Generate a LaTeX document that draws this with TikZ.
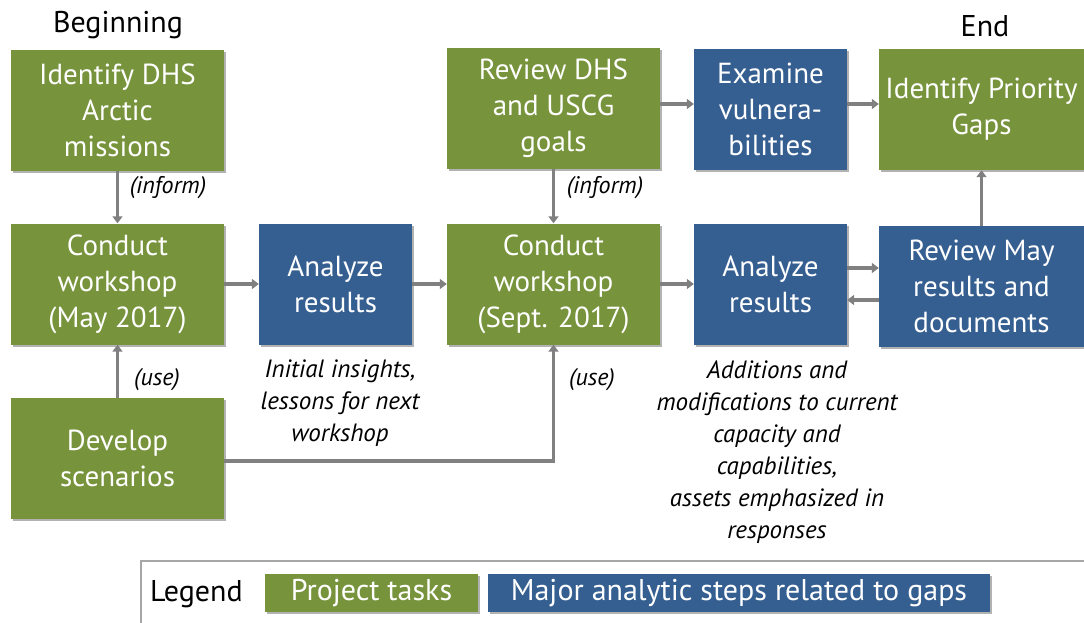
\documentclass[tikz,border=0pt]{standalone}
\usepackage{fontspec}
\setmainfont{PT Sans}
\usetikzlibrary{arrows.meta,shadows}
\definecolor{taskgreen}{HTML}{77933C}
\definecolor{stepblue}{HTML}{365F91}
\definecolor{linkgray}{HTML}{808080}
\definecolor{framegray}{HTML}{A6A6A6}
\begin{document}
\begin{tikzpicture}[x=1pt,y=-1pt,
  boxbase/.style={inner sep=0pt, text=white, align=center,
    font=\fontsize{29}{36}\selectfont,
    drop shadow={shadow xshift=2pt, shadow yshift=-2pt, opacity=0.3, fill=black}},
  task/.style={boxbase, fill=taskgreen, minimum width=#1, minimum height=121pt},
  stepbox/.style={boxbase, fill=stepblue, minimum width=#1, minimum height=121pt},
  link/.style={draw=linkgray, line width=3.5pt, -{Triangle[length=7pt,width=10pt]}},
  note/.style={font=\fontsize{24}{28}\itshape\selectfont, text=black, inner sep=0pt},
  gain/.style={font=\fontsize{25}{32}\itshape\selectfont, text=black, align=center, inner sep=0pt},
  heading/.style={font=\fontsize{30}{34}\selectfont, text=black, inner sep=0pt},
  legbox/.style={inner sep=0pt, text=white, font=\fontsize{30}{34}\selectfont,
    minimum height=38pt, drop shadow={shadow xshift=2pt, shadow yshift=-2pt, opacity=0.3, fill=black}}
]
\useasboundingbox (0,0) rectangle (1084,623);

% headings
\node[heading] (beg) at (118,25) {Beginning};
\node[heading] (end) at (985,26) {End};

% upper row
\node[task=213pt] (miss) at (117.5,110.5) {Identify DHS\\Arctic\\missions};
\node[task=213pt] (goals) at (553.5,108.5) {Review DHS\\and USCG\\goals};
\node[stepbox=153pt] (vuln) at (770.5,109.5) {Examine\\vulnera-\\bilities};
\node[task=205pt] (gaps) at (981.5,109.5) {Identify Priority\\Gaps};

% middle row
\node[task=213pt] (may) at (117.5,284) {Conduct\\workshop\\(May 2017)};
\node[stepbox=153pt] (ana1) at (335.5,284) {Analyze\\results};
\node[task=213pt] (sept) at (553.5,284) {Conduct\\workshop\\(Sept. 2017)};
\node[stepbox=153pt] (ana2) at (770.5,284) {Analyze\\results};
\node[stepbox=205pt] (revmay) at (981.5,286.5) {Review May\\results and\\documents};

% lower row
\node[task=213pt] (dev) at (117.5,458.5) {Develop\\scenarios};

% connectors
\draw[link] (miss) -- (may);
\draw[link] (dev) -- (may);
\draw[link] (may) -- (ana1);
\draw[link] (ana1) -- (sept);
\draw[link] (goals) -- (sept);
\draw[link] (dev.east |- 0,461) -| (sept.south);
\draw[link] (sept) -- (ana2);
\draw[link] (ana2.east |- 0,268) -- (revmay.west |- 0,268);
\draw[link] (revmay.west |- 0,300) -- (ana2.east |- 0,300);
\draw[link] (goals.east |- 0,104) -- (vuln.west |- 0,104);
\draw[link] (vuln.east |- 0,104) -- (gaps.west |- 0,104);
\draw[link] (revmay.north) -- (gaps.south);

% connector labels
\node[note] (inf1) at (168,188) {(inform)};
\node[note] (inf2) at (605,188) {(inform)};
\node[note] (use1) at (157,380) {(use)};
\node[note] (use2) at (592,380) {(use)};

% outcome notes
\node[gain, anchor=north] (out1) at (340,360) {Initial insights,\\lessons for next\\workshop};
\node[gain, anchor=north] (out2) at (777,361) {Additions and\\modifications to current\\capacity and\\capabilities,\\assets emphasized in\\responses};

% legend
\draw[framegray, line width=1.2pt] (1095,561) -- (141,561) -- (141,640);
\node[heading, anchor=west] (leg) at (150,594) {Legend};
\node[legbox, fill=taskgreen, minimum width=213pt] (legtask) at (371.5,593) {Project tasks};
\node[legbox, fill=stepblue, minimum width=502pt] (legstep) at (739,593) {Major analytic steps related to gaps};
\end{tikzpicture}
\end{document}
